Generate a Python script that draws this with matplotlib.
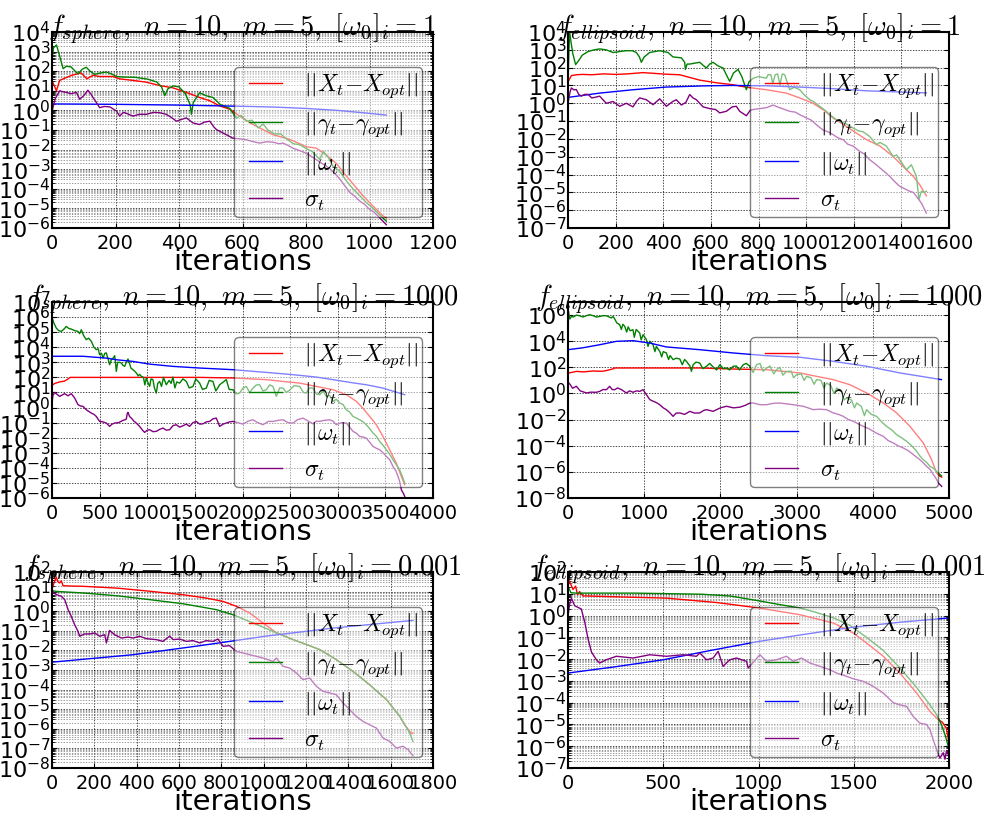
import numpy as np
import matplotlib
matplotlib.use("Agg")
import matplotlib.pyplot as plt
from matplotlib.ticker import FixedLocator, MultipleLocator, LogLocator, NullLocator, LogFormatterSciNotation
from matplotlib.legend_handler import HandlerLine2D

plt.rcParams['mathtext.fontset'] = 'cm'
plt.rcParams['axes.unicode_minus'] = False
plt.rcParams['font.family'] = ['DejaVu Sans']

# ---------------- f_sphere, omega0 = 1 ----------------
s1_x_it = [0, 14, 24, 62, 92, 110, 129, 150, 192, 213, 255, 297, 339, 381, 423, 465, 497, 528, 560, 591,
           633, 665, 696, 738, 759, 801, 833, 864, 896, 917, 948, 980, 1011, 1043, 1053]
s1_x_log = [1.53, 1.0, 1.53, 1.79, 1.91, 1.61, 1.79, 1.73, 1.73, 1.61, 1.53, 1.44, 1.27, 1.15, 0.92, 0.66,
            0.49, 0.23, 0.06, -0.29, -0.72, -0.98, -1.24, -1.42, -1.55, -1.85, -1.93, -2.28, -2.71, -3.15,
            -3.75, -4.36, -4.88, -5.39, -5.48]
s1_g_it = [0, 5, 14, 22, 35, 45, 60, 70, 82, 95, 108, 120, 134, 150, 171, 190, 203, 230, 260, 300, 330,
           345, 355, 365, 381, 400, 420, 435, 439, 445, 465, 485, 507, 530, 560, 581, 595, 612, 630, 650,
           665, 680, 700, 720, 738, 760, 780, 801, 820, 843, 855, 870, 885, 906, 927, 948, 969, 990, 1011,
           1030, 1053]
s1_g_log = [2.6, 3.2, 3.34, 2.9, 2.13, 2.25, 2.22, 2.05, 1.87, 2.1, 2.2, 2.0, 1.84, 1.9, 1.96, 1.84, 1.73,
            1.7, 1.69, 1.6, 1.45, 1.2, 0.75, 1.1, 1.25, 1.2, 0.85, 0.3, -0.2, 0.4, 0.9, 0.75, 0.66, 0.3,
            0.1, -0.4, -0.25, -0.55, -0.5, -0.9, -0.7, -1.0, -1.2, -1.2, -1.45, -1.7, -1.75, -1.95, -2.1,
            -2.5, -2.1, -2.4, -2.85, -3.1, -3.6, -4.0, -4.35, -4.7, -5.0, -5.3, -5.65]
s1_w_it = [0, 200, 400, 600, 700, 800, 900, 1000, 1053]
s1_w_log = [0.33, 0.31, 0.27, 0.21, 0.17, 0.1, 0.0, -0.15, -0.24]
s1_s_it = [0, 10, 24, 35, 45, 60, 77, 87, 100, 113, 122, 129, 140, 150, 165, 182, 195, 203, 213, 225, 234,
           255, 275, 297, 320, 339, 360, 375, 392, 410, 423, 444, 465, 480, 497, 510, 518, 549, 570, 590,
           612, 635, 654, 675, 696, 715, 728, 745, 759, 780, 801, 822, 843, 860, 875, 890, 906, 920, 938,
           955, 969, 985, 1000, 1015, 1032, 1045, 1053]
s1_s_log = [-0.05, 0.6, 1.0, 0.95, 0.92, 0.85, 0.92, 0.57, 0.75, 1.03, 0.85, 0.66, 0.4, 0.14, 0.2, 0.18,
            0.05, -0.03, -0.29, -0.1, -0.15, -0.29, -0.2, -0.2, -0.1, -0.12, -0.2, -0.35, -0.55, -0.45,
            -0.38, -0.64, -0.72, -0.6, -0.55, -0.85, -0.98, -1.24, -1.42, -1.45, -1.5, -1.6, -1.67, -1.6,
            -1.62, -1.7, -1.67, -1.8, -1.93, -2.05, -2.19, -2.4, -2.63, -2.8, -2.97, -3.2, -3.49, -3.8,
            -4.18, -4.4, -4.62, -4.8, -5.05, -5.2, -5.48, -5.7, -5.83]

# ---------------- f_ellipsoid, omega0 = 1 ----------------
e1_x_it = [0, 14, 35, 60, 100, 150, 200, 250, 315, 360, 413, 469, 497, 553, 623, 693, 749, 833, 917, 973,
           1029, 1071, 1113, 1169, 1211, 1253, 1310, 1365, 1407, 1450, 1477, 1505]
e1_x_log = [1.2, 1.55, 1.6, 1.62, 1.6, 1.65, 1.62, 1.65, 1.72, 1.68, 1.63, 1.6, 1.5, 1.3, 1.15, 1.04, 0.9,
            0.76, 0.57, 0.3, 0.0, -0.36, -0.82, -1.3, -1.67, -2.04, -2.4, -2.98, -3.54, -4.1, -4.57, -5.2]
e1_g_it = [0, 4, 7, 12, 20, 32, 45, 60, 84, 110, 133, 160, 189, 215, 245, 270, 287, 300, 308, 320, 343,
           385, 420, 441, 476, 490, 493, 500, 511, 553, 570, 581, 595, 609, 630, 651, 665, 679, 695, 714,
           730, 749, 760, 777, 800, 833, 840, 852, 860, 870, 880, 890, 900, 910, 931, 950, 973, 990, 1015,
           1030, 1057, 1080, 1099, 1127, 1155, 1175, 1197, 1220, 1239, 1267, 1295, 1310, 1337, 1365, 1380,
           1393, 1421, 1442, 1463, 1474, 1484, 1495, 1505]
e1_g_log = [1.0, 3.0, 4.0, 3.5, 2.8, 2.17, 2.4, 2.7, 2.9, 3.0, 3.05, 3.0, 2.85, 2.9, 2.95, 2.95, 2.85, 2.6,
            2.3, 2.6, 2.85, 2.95, 2.85, 2.6, 2.55, 2.3, 1.9, 2.2, 2.2, 2.3, 2.1, 1.98, 2.2, 2.3, 2.1, 1.98,
            1.6, 1.23, 1.7, 1.9, 1.5, 0.76, 1.2, 1.4, 1.5, 1.4, 1.6, 1.6, 1.1, 1.6, 1.65, 1.05, 1.65, 1.6,
            0.76, 0.9, 0.76, 0.5, 0.2, 0.1, -0.17, -0.4, -0.64, -0.92, -1.1, -1.2, -1.39, -1.55, -1.6,
            -1.86, -2.32, -2.2, -2.4, -2.98, -2.9, -3.17, -3.73, -3.45, -4.1, -5.4, -4.94, -5.0, -4.94]
e1_w_it = [0, 133, 273, 413, 581, 693, 833, 973, 1113, 1253, 1505]
e1_w_log = [0.33, 0.57, 0.76, 0.91, 0.98, 1.0, 0.98, 0.91, 0.82, 0.7, 0.58]
e1_s_it = [0, 8, 14, 25, 35, 45, 56, 70, 84, 100, 112, 133, 150, 161, 189, 217, 245, 273, 287, 301, 329,
           357, 385, 413, 440, 455, 476, 495, 511, 525, 539, 567, 595, 620, 637, 665, 690, 707, 721, 749,
           765, 777, 805, 833, 861, 889, 910, 931, 955, 973, 1001, 1022, 1043, 1071, 1092, 1113, 1135,
           1155, 1175, 1197, 1225, 1245, 1267, 1290, 1310, 1330, 1351, 1372, 1393, 1414, 1435, 1450, 1463,
           1484, 1495, 1505]
e1_s_log = [0.0, 0.6, 0.86, 0.75, 0.77, 0.5, 0.4, 0.5, 0.5, 0.3, 0.33, 0.4, 0.15, 0.0, 0.1, -0.17, 0.0,
            -0.2, 0.1, 0.3, 0.2, -0.08, 0.25, -0.17, 0.1, 0.2, -0.1, 0.05, 0.49, 0.3, 0.2, -0.2, -0.3,
            -0.35, -0.54, -0.45, -0.2, -0.17, -0.45, -0.7, -0.4, -0.35, -0.3, -0.25, -0.1, -0.25, -0.35,
            -0.45, -0.5, -0.64, -0.82, -0.95, -1.2, -1.5, -1.6, -1.76, -1.95, -2.04, -2.3, -2.4, -2.7,
            -2.85, -3.17, -3.4, -3.63, -3.85, -4.1, -4.4, -4.66, -4.8, -4.94, -5.0, -5.22, -5.6, -5.9,
            -6.16]

# ---------------- f_sphere, omega0 = 1000 ----------------
s2_x_it = [0, 5, 30, 80, 130, 170, 190, 300, 600, 1000, 1550, 1900, 2250, 2425, 2600, 2775, 2950, 3090,
           3195, 3265, 3335, 3405, 3475, 3545, 3615, 3668, 3703]
s2_x_log = [1.3, 1.5, 1.6, 1.7, 1.75, 1.9, 2.0, 2.0, 2.0, 2.0, 2.0, 1.96, 1.85, 1.73, 1.62, 1.4, 1.18,
            0.85, 0.41, -0.05, -0.59, -1.14, -1.92, -2.8, -3.69, -4.57, -5.12]
s2_g_it = [0, 20, 45, 70, 98, 125, 150, 175, 203, 240, 273, 290, 308, 330, 360, 385, 413, 440, 465, 485,
           500, 520, 535, 555, 570, 590, 605, 625, 645, 658, 668, 675, 690, 710, 728, 745, 763, 780, 798,
           815, 830, 850, 870, 885, 905, 920, 938, 960, 975, 990, 1005, 1025, 1040, 1060, 1075, 1095, 1110,
           1130, 1150, 1170, 1200, 1230, 1250, 1270, 1290, 1310, 1340, 1375, 1410, 1440, 1480, 1510, 1550,
           1580, 1620, 1650, 1690, 1720, 1760, 1800, 1830, 1860, 1900, 1935, 1970, 2005, 2040, 2075, 2110,
           2145, 2180, 2215, 2250, 2285, 2320, 2355, 2390, 2425, 2460, 2500, 2540, 2600, 2640, 2670, 2705,
           2740, 2775, 2810, 2845, 2880, 2915, 2950, 2985, 3020, 3055, 3090, 3125, 3160, 3195, 3230, 3265,
           3300, 3335, 3370, 3405, 3440, 3475, 3510, 3545, 3580, 3615, 3650, 3680, 3703]
s2_g_log = [6.0, 5.6, 5.27, 5.1, 5.05, 5.2, 5.38, 5.25, 5.2, 5.1, 5.05, 4.9, 5.16, 4.8, 4.5, 4.6, 4.39,
            4.0, 3.84, 3.9, 3.5, 3.6, 3.28, 3.6, 3.62, 3.2, 2.84, 3.2, 3.3, 3.44, 2.9, 2.4, 3.0, 3.0, 2.95,
            2.8, 2.73, 3.0, 3.22, 2.9, 2.6, 2.51, 2.4, 2.29, 2.1, 2.2, 2.07, 2.0, 1.5, 1.96, 1.7, 1.4, 1.9,
            1.85, 1.3, 0.96, 1.6, 1.73, 1.4, 2.0, 1.51, 1.8, 1.6, 2.02, 1.3, 1.7, 1.62, 1.9, 1.73, 1.3, 1.4,
            1.9, 1.62, 1.2, 1.29, 1.8, 1.73, 1.1, 1.51, 1.7, 1.85, 1.2, 1.18, 0.9, 0.96, 1.3, 1.4, 1.0,
            1.29, 1.5, 1.51, 1.1, 1.18, 1.5, 1.4, 0.74, 1.3, 1.29, 1.0, 1.18, 1.45, 1.4, 1.0, 0.96, 1.3,
            1.29, 0.9, 0.85, 1.1, 0.74, 0.8, 0.41, 0.55, 0.3, 0.2, -0.15, -0.3, -0.59, -0.7, -0.81, -0.95,
            -1.14, -1.4, -1.69, -1.9, -2.25, -2.5, -2.8, -3.1, -3.46, -3.8, -4.13, -4.6, -5.01]
s2_w_it = [0, 325, 570, 675, 850, 1025, 1270, 1550, 1900, 2250, 2530, 2775, 2950, 3125, 3300, 3475, 3703]
s2_w_log = [3.4, 3.4, 3.28, 3.17, 3.06, 2.88, 2.73, 2.62, 2.51, 2.33, 2.18, 2.02, 1.85, 1.67, 1.51, 1.29,
            0.85]
s2_s_it = [0, 10, 28, 80, 133, 168, 203, 238, 273, 300, 325, 360, 413, 440, 465, 500, 535, 570, 605, 630,
           658, 700, 745, 770, 780, 790, 798, 815, 833, 860, 885, 920, 950, 973, 1000, 1025, 1060, 1095,
           1130, 1165, 1200, 1235, 1270, 1305, 1340, 1375, 1410, 1445, 1480, 1515, 1550, 1585, 1620, 1655,
           1690, 1725, 1760, 1795, 1830, 1865, 1900, 1950, 2005, 2060, 2110, 2160, 2215, 2270, 2320, 2375,
           2425, 2480, 2530, 2580, 2635, 2690, 2740, 2775, 2810, 2860, 2915, 2950, 2985, 3040, 3090, 3125,
           3160, 3195, 3230, 3265, 3300, 3335, 3370, 3405, 3440, 3475, 3510, 3545, 3580, 3610, 3633, 3650,
           3668, 3690, 3703]
s2_s_log = [0.3, 0.8, 1.0, 0.74, 0.92, 0.78, 0.92, 0.63, 0.19, 0.1, 0.08, -0.15, -0.37, -0.45, -0.59,
            -0.92, -0.95, -1.03, -1.25, -1.1, -1.03, -1.0, -0.85, -0.8, -0.77, -0.4, -0.32, -0.6, -0.7,
            -0.9, -1.03, -1.25, -1.5, -1.65, -1.5, -1.47, -1.6, -1.58, -1.45, -1.36, -1.5, -1.47, -1.2,
            -1.14, -1.3, -1.21, -1.1, -1.25, -1.0, -0.92, -1.1, -1.08, -0.95, -0.92, -0.75, -0.7, -1.25,
            -1.1, -1.03, -0.95, -0.92, -1.0, -1.1, -0.9, -0.81, -1.0, -1.14, -0.92, -0.92, -0.85, -0.81,
            -1.0, -1.03, -0.8, -0.7, -0.9, -1.08, -0.9, -0.92, -0.85, -0.81, -0.9, -1.14, -1.0, -1.03,
            -1.3, -1.58, -1.7, -1.92, -1.95, -2.03, -2.3, -2.58, -2.7, -2.8, -3.0, -3.24, -3.45, -3.91,
            -4.2, -4.57, -4.9, -5.46, -5.7, -5.9]

# ---------------- f_ellipsoid, omega0 = 1000 ----------------
e2_x_it = [0, 5, 40, 110, 200, 328, 450, 500, 547, 600, 613, 853, 1200, 1729, 2167, 2606, 3044, 3262,
           3481, 3700, 3919, 4138, 4313, 4488, 4663, 4772, 4838, 4882, 4905]
e2_x_log = [1.3, 1.57, 1.6, 1.69, 1.65, 1.72, 1.7, 1.75, 1.82, 1.9, 1.95, 1.95, 1.95, 1.95, 1.87, 1.82,
            1.57, 1.31, 1.06, 0.67, 0.04, -0.73, -1.49, -2.52, -3.79, -5.07, -6.09, -6.34, -6.4]
e2_g_it = [0, 3, 6, 12, 25, 44, 70, 110, 150, 197, 240, 285, 330, 372, 420, 460, 503, 540, 569, 590, 613,
           640, 678, 700, 720, 744, 770, 790, 815, 853, 870, 895, 941, 960, 985, 1029, 1050, 1073, 1116,
           1140, 1160, 1204, 1230, 1250, 1291, 1320, 1340, 1379, 1420, 1467, 1500, 1530, 1554, 1600, 1620,
           1642, 1680, 1729, 1770, 1817, 1860, 1904, 1950, 1992, 2040, 2080, 2120, 2167, 2210, 2250, 2299,
           2340, 2387, 2430, 2474, 2520, 2560, 2606, 2650, 2700, 2737, 2780, 2820, 2868, 2930, 2960, 3000,
           3060, 3100, 3130, 3190, 3230, 3262, 3320, 3360, 3393, 3450, 3490, 3525, 3590, 3620, 3656, 3720,
           3760, 3788, 3850, 3890, 3919, 3980, 4050, 4120, 4182, 4250, 4313, 4380, 4444, 4510, 4576, 4620,
           4663, 4710, 4751, 4790, 4816, 4860, 4900]
e2_g_log = [1.5, 4.0, 6.3, 6.0, 5.7, 5.9, 5.85, 6.0, 5.95, 5.85, 5.95, 6.03, 5.95, 5.85, 5.9, 5.95, 5.95,
            5.85, 5.78, 5.9, 5.7, 5.4, 5.27, 4.9, 5.3, 5.14, 4.7, 5.1, 4.8, 4.88, 4.3, 4.9, 4.63, 4.1, 4.5,
            4.12, 3.6, 4.0, 3.74, 3.2, 3.6, 3.22, 2.8, 3.2, 3.1, 2.6, 2.9, 2.59, 2.7, 2.64, 2.2, 2.6, 2.46,
            2.1, 1.7, 2.2, 2.4, 2.33, 1.9, 2.08, 2.3, 2.03, 1.8, 2.2, 1.9, 1.95, 1.8, 2.08, 2.1, 1.8, 2.2,
            2.3, 2.08, 1.6, 2.2, 2.3, 1.7, 1.95, 2.1, 1.5, 1.82, 2.0, 1.4, 1.69, 1.7, 1.2, 1.44, 1.5, 1.0,
            1.31, 1.2, 0.7, 1.06, 1.0, 0.4, 0.8, 0.6, 0.0, 0.42, 0.2, -0.5, -0.35, -0.5, -1.1, -0.73, -1.0,
            -1.7, -1.24, -1.6, -1.75, -2.2, -2.52, -2.8, -3.15, -3.4, -3.66, -4.0, -4.43, -4.8, -5.07, -5.3,
            -5.58, -5.7, -5.83, -6.1, -6.3]
e2_w_it = [0, 200, 416, 635, 853, 960, 1073, 1291, 1729, 2167, 2606, 3044, 3481, 3919, 4357, 4900]
e2_w_log = [3.35, 3.5, 3.73, 3.99, 4.04, 3.95, 3.86, 3.56, 3.35, 3.1, 2.89, 2.77, 2.46, 2.08, 1.57, 1.06]
e2_s_it = [0, 5, 30, 60, 110, 160, 241, 300, 372, 416, 460, 504, 547, 580, 613, 650, 700, 766, 810, 853,
           900, 941, 985, 1030, 1073, 1120, 1160, 1204, 1250, 1291, 1340, 1379, 1420, 1467, 1530, 1598, 1660,
           1729, 1780, 1817, 1860, 1904, 2000, 2080, 2170, 2255, 2330, 2380, 2430, 2520, 2606, 2700, 2781,
           2870, 2956, 3087, 3150, 3218, 3300, 3393, 3481, 3550, 3612, 3680, 3744, 3800, 3875, 3950, 4007,
           4070, 4138, 4200, 4269, 4330, 4400, 4470, 4532, 4580, 4619, 4660, 4707, 4750, 4795, 4830, 4860,
           4904]
e2_s_log = [0.5, 0.85, 0.67, 0.4, 0.55, 0.2, 0.04, 0.1, 0.09, 0.16, 0.3, 0.29, 0.55, 0.3, 0.29, 0.42, 0.3,
            0.04, 0.2, 0.09, 0.2, 0.16, 0.29, -0.1, -0.47, -0.6, -0.7, -0.86, -1.1, -1.24, -1.5, -1.75,
            -1.5, -1.49, -1.6, -1.37, -1.5, -1.49, -1.3, -1.24, -1.3, -1.37, -1.1, -0.98, -1.1, -1.05, -0.9,
            -0.75, -0.73, -0.86, -0.86, -0.75, -0.73, -0.8, -0.86, -0.98, -1.1, -1.24, -1.2, -1.24, -1.49,
            -1.6, -1.75, -2.0, -2.13, -2.3, -2.52, -2.7, -2.9, -3.1, -3.28, -3.6, -3.79, -4.0, -4.17, -4.4,
            -4.68, -4.9, -5.07, -5.3, -5.58, -5.8, -6.21, -6.5, -6.85, -7.11]

# ---------------- f_sphere, omega0 = 0.001 ----------------
s3_x_it = [0, 8, 20, 28, 36, 44, 52, 100, 146, 304, 461, 619, 729, 808, 871, 934, 997, 1060, 1139, 1202,
           1265, 1343, 1422, 1500, 1580, 1643, 1666, 1690, 1698, 1705]
s3_x_log = [1.1, 1.4, 1.74, 1.5, 1.44, 1.55, 1.3, 1.28, 1.27, 1.18, 1.02, 0.84, 0.67, 0.5, 0.25, -0.09,
            -0.6, -1.1, -1.45, -1.7, -1.96, -2.47, -3.07, -3.75, -4.51, -5.36, -5.8, -6.13, -6.25, -6.22]
s3_g_it = [0, 20, 146, 304, 461, 619, 776, 855, 950, 1044, 1139, 1202, 1265, 1343, 1422, 1500, 1580, 1643,
           1690, 1705]
s3_g_log = [1.05, 1.01, 0.93, 0.79, 0.59, 0.38, 0.08, -0.18, -0.6, -1.03, -1.45, -1.7, -1.96, -2.47,
            -3.07, -3.75, -4.51, -5.36, -6.21, -6.64]
s3_w_it = [0, 383, 698, 1013, 1328, 1705]
s3_w_log = [-2.6, -2.22, -1.76, -1.27, -0.86, -0.47]
s3_s_it = [0, 8, 20, 44, 60, 76, 91, 107, 123, 131, 154, 178, 202, 225, 249, 257, 272, 296, 328, 359, 383,
           414, 446, 493, 524, 556, 572, 603, 635, 666, 698, 729, 761, 784, 808, 839, 871, 902, 934, 965,
           997, 1044, 1060, 1091, 1123, 1154, 1186, 1217, 1249, 1280, 1312, 1343, 1375, 1406, 1437, 1469,
           1500, 1532, 1564, 1595, 1627, 1658, 1682, 1705]
s3_s_log = [1.1, 0.93, 0.85, 0.76, 0.59, 0.08, -0.26, -0.69, -1.03, -1.28, -1.16, -1.16, -1.11, -1.28,
            -1.2, -1.62, -0.98, -1.2, -1.37, -1.32, -1.37, -1.28, -1.4, -1.45, -1.54, -1.27, -1.45, -1.42,
            -1.54, -1.5, -1.62, -1.5, -1.54, -1.42, -1.79, -1.76, -2.05, -2.13, -2.22, -2.3, -2.39, -2.56,
            -2.39, -2.81, -2.9, -3.15, -3.49, -3.41, -3.83, -4.09, -4.17, -4.26, -4.68, -5.02, -5.36, -5.62,
            -5.79, -5.96, -6.47, -6.64, -6.98, -6.89, -7.06, -7.37]

# ---------------- f_ellipsoid, omega0 = 0.001 ----------------
e3_x_it = [0, 7, 14, 26, 40, 50, 61, 79, 96, 254, 517, 779, 1000, 1217, 1392, 1497, 1567, 1655, 1742,
           1830, 1900, 1940, 1965, 1985, 1995, 2000]
e3_x_log = [1.3, 1.6, 1.45, 1.2, 1.35, 0.95, 1.1, 0.9, 0.9, 0.86, 0.8, 0.6, 0.35, 0.04, -0.34, -0.8, -1.26,
            -1.87, -2.64, -3.56, -4.4, -4.75, -4.9, -5.15, -5.6, -5.95]
e3_g_it = [0, 5, 15, 40, 350, 700, 850, 1000, 1100, 1217, 1300, 1392, 1480, 1567, 1655, 1742, 1830, 1900,
           1935, 1960, 1980, 1996]
e3_g_log = [1.15, 1.25, 1.05, 1.03, 1.03, 0.98, 0.9, 0.68, 0.52, 0.35, 0.15, -0.1, -0.45, -1.0, -1.6, -2.4,
            -3.3, -4.1, -4.55, -5.0, -5.5, -6.0]
e3_w_it = [0, 250, 500, 750, 1000, 1250, 1500, 1750, 2000]
e3_w_log = [-2.64, -2.35, -2.03, -1.6, -1.19, -0.85, -0.53, -0.3, -0.11]
e3_s_it = [0, 8, 18, 35, 70, 88, 105, 123, 149, 166, 201, 254, 342, 429, 517, 604, 674, 692, 727, 762, 788,
           814, 849, 884, 937, 946, 1007, 1042, 1095, 1147, 1182, 1226, 1270, 1322, 1375, 1410, 1462, 1497,
           1550, 1602, 1655, 1707, 1742, 1777, 1812, 1847, 1882, 1900, 1917, 1935, 1952, 1970, 1979, 1987,
           2000]
e3_s_log = [-0.04, 0.5, 0.8, 0.45, 0.3, -0.3, -1.06, -1.67, -2.03, -2.18, -2.03, -1.87, -1.95, -1.8, -1.87,
            -1.8, -1.87, -1.72, -2.03, -1.95, -1.64, -2.33, -2.03, -1.95, -2.1, -2.41, -1.8, -2.1, -2.03,
            -1.87, -2.1, -1.95, -2.18, -2.33, -2.49, -2.64, -2.79, -2.9, -3.02, -3.25, -3.56, -4.0, -4.1,
            -4.17, -4.63, -4.94, -5.0, -5.24, -5.7, -6.16, -6.55, -6.3, -6.6, -6.2, -6.47]

titles = [r'$f_{sphere},\ n=10,\ m=5,\ [\omega_0]_i=1$',
          r'$f_{ellipsoid},\ n=10,\ m=5,\ [\omega_0]_i=1$',
          r'$f_{sphere},\ n=10,\ m=5,\ [\omega_0]_i=1000$',
          r'$f_{ellipsoid},\ n=10,\ m=5,\ [\omega_0]_i=1000$',
          r'$f_{sphere},\ n=10,\ m=5,\ [\omega_0]_i=0.001$',
          r'$f_{ellipsoid},\ n=10,\ m=5,\ [\omega_0]_i=0.001$']
legend_labels = [r'$||X_t{-}X_{opt}||$', r'$||\gamma_t{-}\gamma_{opt}||$', r'$||\omega_t||$', r'$\sigma_t$']
series_colors = ['#ff0000', '#008000', '#0000ff', '#800080']

panels = [
    dict(data=[(s1_x_it, s1_x_log), (s1_g_it, s1_g_log), (s1_w_it, s1_w_log), (s1_s_it, s1_s_log)],
         xmax=1200, xstep=200, ylog=(-6, 4), ystep=1, minor=True),
    dict(data=[(e1_x_it, e1_x_log), (e1_g_it, e1_g_log), (e1_w_it, e1_w_log), (e1_s_it, e1_s_log)],
         xmax=1600, xstep=200, ylog=(-7, 4), ystep=1, minor=False),
    dict(data=[(s2_x_it, s2_x_log), (s2_g_it, s2_g_log), (s2_w_it, s2_w_log), (s2_s_it, s2_s_log)],
         xmax=4000, xstep=500, ylog=(-6, 7), ystep=1, minor=False),
    dict(data=[(e2_x_it, e2_x_log), (e2_g_it, e2_g_log), (e2_w_it, e2_w_log), (e2_s_it, e2_s_log)],
         xmax=5000, xstep=1000, ylog=(-8, 7), ystep=2, minor=False),
    dict(data=[(s3_x_it, s3_x_log), (s3_g_it, s3_g_log), (s3_w_it, s3_w_log), (s3_s_it, s3_s_log)],
         xmax=1800, xstep=200, ylog=(-8, 2), ystep=1, minor=True),
    dict(data=[(e3_x_it, e3_x_log), (e3_g_it, e3_g_log), (e3_w_it, e3_w_log), (e3_s_it, e3_s_log)],
         xmax=2000, xstep=500, ylog=(-7, 2), ystep=1, minor=True),
]

fig = plt.figure(figsize=(9.88, 8.15), dpi=100)
W, H = 988.0, 815.0
col_left = [52, 568]
row_bottom = [228, 498, 768]
ax_w, ax_h = 381, 196

# legend handles are inset from the left edge of their slot
inset_line = HandlerLine2D(xpad=0.45)

for k, p in enumerate(panels):
    r, c = divmod(k, 2)
    ax = fig.add_axes([col_left[c] / W, 1 - row_bottom[r] / H, ax_w / W, ax_h / H])
    lines = []
    for (it, lg), lab, col in zip(p['data'], legend_labels, series_colors):
        ln, = ax.plot(it, np.power(10.0, lg), color=col, lw=1.0, label=lab)
        lines.append(ln)
    ax.set_yscale('log')
    lo, hi = p['ylog']
    ax.set_ylim(10.0 ** lo, 10.0 ** hi)
    ax.set_xlim(0, p['xmax'])
    ax.xaxis.set_major_locator(MultipleLocator(p['xstep']))
    ax.yaxis.set_major_locator(FixedLocator(10.0 ** np.arange(lo, hi + 1, p['ystep'])))
    ax.yaxis.set_major_formatter(LogFormatterSciNotation())
    if p['minor']:
        ax.yaxis.set_minor_locator(LogLocator(base=10, subs=np.arange(2, 10), numticks=100))
        ax.grid(True, which='minor', axis='y', color='0.45', linestyle=(0, (2, 2)), lw=0.5)
    else:
        ax.yaxis.set_minor_locator(NullLocator())
    ax.grid(True, which='major', color='k', linestyle=(0, (2, 2)), lw=0.5)
    ax.tick_params(axis='both', which='both', direction='in', top=True, right=True)
    ax.tick_params(axis='x', labelsize=14, pad=4)
    ax.tick_params(axis='y', labelsize=16, pad=1)
    for sp in ax.spines.values():
        sp.set_linewidth(1.5)
    ax.set_xlabel('iterations', fontsize=21, labelpad=-3)
    ax.set_title(titles[k], fontsize=20.5, y=1.0, pad=-2)
    ax.legend(loc='lower right', fontsize=17, framealpha=0.5, fancybox=True,
              edgecolor='k', handlelength=1.85, handletextpad=0.9, labelspacing=0.45,
              borderpad=0.2, borderaxespad=0.45,
              handler_map={ln: inset_line for ln in lines})

fig.savefig('out.png', dpi=100)
